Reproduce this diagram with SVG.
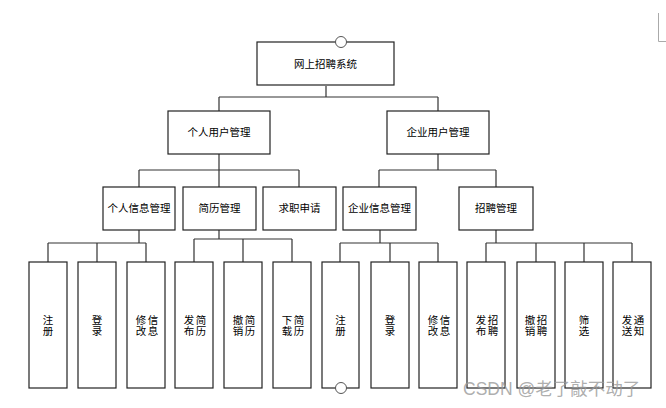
<svg xmlns="http://www.w3.org/2000/svg" width="666" height="408" viewBox="0 0 666 408">
<style>
.b{fill:#fff;stroke:#222;stroke-width:1.2}
.t{font-family:"Noto Sans CJK SC","Liberation Sans",sans-serif;font-size:10.5px;fill:#000;text-anchor:middle}
.v{font-family:"Noto Sans CJK SC","Liberation Sans",sans-serif;font-size:10.5px;fill:#000;text-anchor:middle;writing-mode:vertical-lr;letter-spacing:0.5px}
.c{fill:none;stroke:#333;stroke-width:1.2}
.h{fill:#fff;stroke:#555;stroke-width:1}
</style>
<rect width="666" height="408" fill="#fff"/>
<path d="M658.5 13V41.5H666" fill="none" stroke="#aaa" stroke-width="1"/>
<g id="connectors" class="c">
<path d="M326 86V97M219 97H438M219 97V111M438 97V111"/>
<path d="M219 154V170M139 170H299M139 170V187M219 170V187M299 170V187"/>
<path d="M438 154V170M379 170H496M379 170V187M496 170V187"/>
<path d="M139 230V243M48 243H146M48 243V262M97 243V262M146 243V262"/>
<path d="M219 230V239M194 239H292M194 239V262M243 239V262M292 239V262"/>
<path d="M380 230V243M340 243H438M340 243V262M390 243V262M438 243V262"/>
<path d="M496 230V243M486 243H632M486 243V262M536 243V262M584 243V262M632 243V262"/>
</g>
<g id="n0"><rect class="b" x="257" y="42" width="137" height="43"/><text class="t" x="325.5" y="68" font-size="11">网上招聘系统</text></g>
<g id="n1"><rect class="b" x="168" y="111" width="102" height="43"/><text class="t" x="219" y="136">个人用户管理</text></g>
<g id="n2"><rect class="b" x="387" y="111" width="102" height="43"/><text class="t" x="438" y="136">企业用户管理</text></g>
<g id="n3"><rect class="b" x="103" y="187" width="72" height="43"/><text class="t" x="139" y="212">个人信息管理</text></g>
<g id="n4"><rect class="b" x="183" y="187" width="73" height="43"/><text class="t" x="219.5" y="212">简历管理</text></g>
<g id="n5"><rect class="b" x="263" y="187" width="73" height="43"/><text class="t" x="299.5" y="212">求职申请</text></g>
<g id="n6"><rect class="b" x="343" y="187" width="73" height="43"/><text class="t" x="379.5" y="212">企业信息管理</text></g>
<g id="n7"><rect class="b" x="459" y="187" width="74" height="43"/><text class="t" x="496" y="212">招聘管理</text></g>
<g id="l1"><rect class="b" x="29" y="262" width="38" height="126"/><text class="v" x="48" y="326">注册</text></g>
<g id="l2"><rect class="b" x="78" y="262" width="38" height="126"/><text class="v" x="97" y="326">登录</text></g>
<g id="l3"><rect class="b" x="127" y="262" width="38" height="126"/><text class="v" x="141" y="326">修改</text><text class="v" x="153" y="326">信息</text></g>
<g id="l4"><rect class="b" x="175" y="262" width="38" height="126"/><text class="v" x="189" y="326">发布</text><text class="v" x="201" y="326">简历</text></g>
<g id="l5"><rect class="b" x="224" y="262" width="38" height="126"/><text class="v" x="238" y="326">撤销</text><text class="v" x="250" y="326">简历</text></g>
<g id="l6"><rect class="b" x="273" y="262" width="38" height="126"/><text class="v" x="287" y="326">下载</text><text class="v" x="299" y="326">简历</text></g>
<g id="l7"><rect class="b" x="322" y="262" width="37" height="126"/><text class="v" x="340.5" y="326">注册</text></g>
<g id="l8"><rect class="b" x="371" y="262" width="38" height="126"/><text class="v" x="390" y="326">登录</text></g>
<g id="l9"><rect class="b" x="419" y="262" width="38" height="126"/><text class="v" x="433" y="326">修改</text><text class="v" x="445" y="326">信息</text></g>
<g id="l10"><rect class="b" x="467" y="262" width="38" height="126"/><text class="v" x="481" y="326">发布</text><text class="v" x="493" y="326">招聘</text></g>
<g id="l11"><rect class="b" x="517" y="262" width="38" height="126"/><text class="v" x="530" y="326">撤销</text><text class="v" x="542" y="326">招聘</text></g>
<g id="l12"><rect class="b" x="565" y="262" width="38" height="126"/><text class="v" x="584" y="326">筛选</text></g>
<g id="l13"><rect class="b" x="613" y="262" width="38" height="126"/><text class="v" x="627" y="326">发送</text><text class="v" x="639" y="326">通知</text></g>
<circle class="h" cx="341" cy="42" r="5.5"/>
<circle class="h" cx="341" cy="388" r="5.5"/>
<text x="463" y="395" font-family="Liberation Sans,'Noto Sans CJK SC',sans-serif" font-size="17.5" fill="#999" fill-opacity="0.8">CSDN @老了敲不动了</text>
</svg>
